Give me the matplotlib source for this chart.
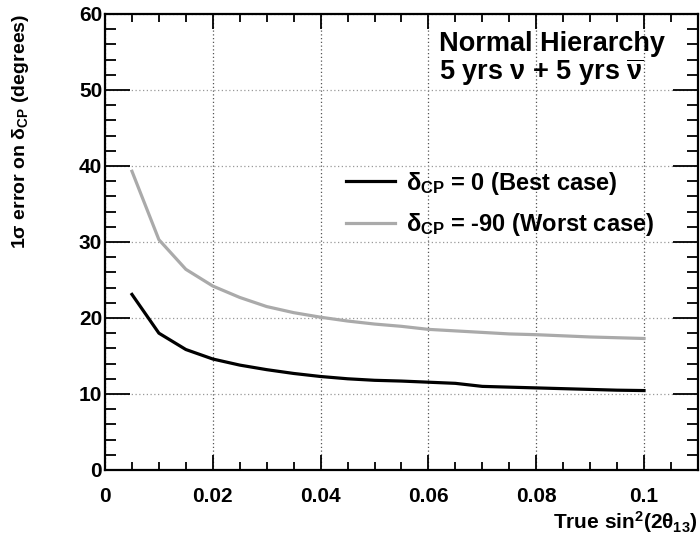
import matplotlib
matplotlib.use("Agg")
import matplotlib.pyplot as plt
from matplotlib.ticker import MultipleLocator

plt.rcParams['font.family'] = ['Liberation Sans', 'DejaVu Sans']
plt.rcParams['font.weight'] = 'bold'
plt.rcParams['mathtext.fontset'] = 'custom'
plt.rcParams['mathtext.rm'] = 'Liberation Sans:bold'
plt.rcParams['mathtext.bf'] = 'Liberation Sans:bold'
plt.rcParams['mathtext.it'] = 'Liberation Sans:bold'
plt.rcParams['mathtext.sf'] = 'Liberation Sans:bold'

# sin^2(2theta13) values
sin2 = [0.005, 0.01, 0.015, 0.02, 0.025, 0.03, 0.035, 0.04, 0.045, 0.05,
        0.055, 0.06, 0.065, 0.07, 0.075, 0.08, 0.085, 0.09, 0.095, 0.1]
# 1 sigma error, delta_CP = 0 (best case)
err_best = [23.1, 18.0, 15.85, 14.6, 13.8, 13.2, 12.7, 12.3, 12.0, 11.8,
            11.7, 11.55, 11.4, 11.0, 10.9, 10.8, 10.7, 10.6, 10.5, 10.45]
# 1 sigma error, delta_CP = -90 (worst case)
err_worst = [39.3, 30.3, 26.4, 24.2, 22.7, 21.5, 20.7, 20.1, 19.6, 19.2,
             18.9, 18.5, 18.3, 18.1, 17.9, 17.8, 17.65, 17.5, 17.4, 17.3]

fig = plt.figure(figsize=(7, 5.35), dpi=100)
ax = fig.add_axes([0.15, 0.1215, 0.847, 0.8525])

ax.plot(sin2, err_best, color='black', lw=2.3, label=r'$\delta_{CP}$ = 0 (Best case)')
ax.plot(sin2, err_worst, color='#aaaaaa', lw=2.3, label=r'$\delta_{CP}$ = -90 (Worst case)')

ax.set_xlim(0, 0.11)
ax.set_ylim(0, 60)
ax.xaxis.set_minor_locator(MultipleLocator(0.005))
ax.yaxis.set_major_locator(MultipleLocator(10))
ax.yaxis.set_minor_locator(MultipleLocator(2))
ax.set_xticks([0, 0.02, 0.04, 0.06, 0.08, 0.1])
ax.set_xticklabels(['0', '0.02', '0.04', '0.06', '0.08', '0.1'])

ax.tick_params(which='both', direction='in', top=True, right=True, width=1.3,
               labelsize=15)
ax.tick_params(axis='y', which='major', length=18, pad=2)
ax.tick_params(axis='y', which='minor', length=8)
ax.tick_params(axis='x', which='major', length=11, pad=12)
ax.tick_params(axis='x', which='minor', length=6)
for lab in ax.get_xticklabels() + ax.get_yticklabels():
    lab.set_fontweight('bold')
for sp in ax.spines.values():
    sp.set_linewidth(1.6)

ax.yaxis.grid(True, linestyle=(0, (1, 2)), color='#999999', lw=0.9)
ax.xaxis.grid(True, linestyle=(0, (1, 2)), color='#555555', lw=0.9)

ax.set_xlabel(r'True sin$^{2}$(2$\theta_{13}$)', fontsize=15, fontweight='bold')
ax.xaxis.set_label_coords(1.0, -0.085)
ax.xaxis.label.set_horizontalalignment('right')
ax.set_ylabel(r'1$\sigma$ error on $\delta_{CP}$ (degrees)', fontsize=14,
              fontweight='bold')
ax.yaxis.set_label_coords(-0.143, 1.0)
ax.yaxis.label.set_verticalalignment('center')
ax.yaxis.label.set_horizontalalignment('right')

ax.text(0.563, 0.935, 'Normal Hierarchy', transform=ax.transAxes, ha='left',
        va='center', fontsize=19.5, fontweight='bold')
ax.text(0.563, 0.872, r'5 yrs $\nu$ + 5 yrs $\overline{\nu}$', transform=ax.transAxes,
        ha='left', va='center', fontsize=19.5, fontweight='bold')

ax.legend(loc='upper left', bbox_to_anchor=(0.37, 0.705), frameon=False,
          fontsize=17, handlelength=2.1, handletextpad=0.45, labelspacing=0.62)

fig.savefig('out.png', dpi=100)
